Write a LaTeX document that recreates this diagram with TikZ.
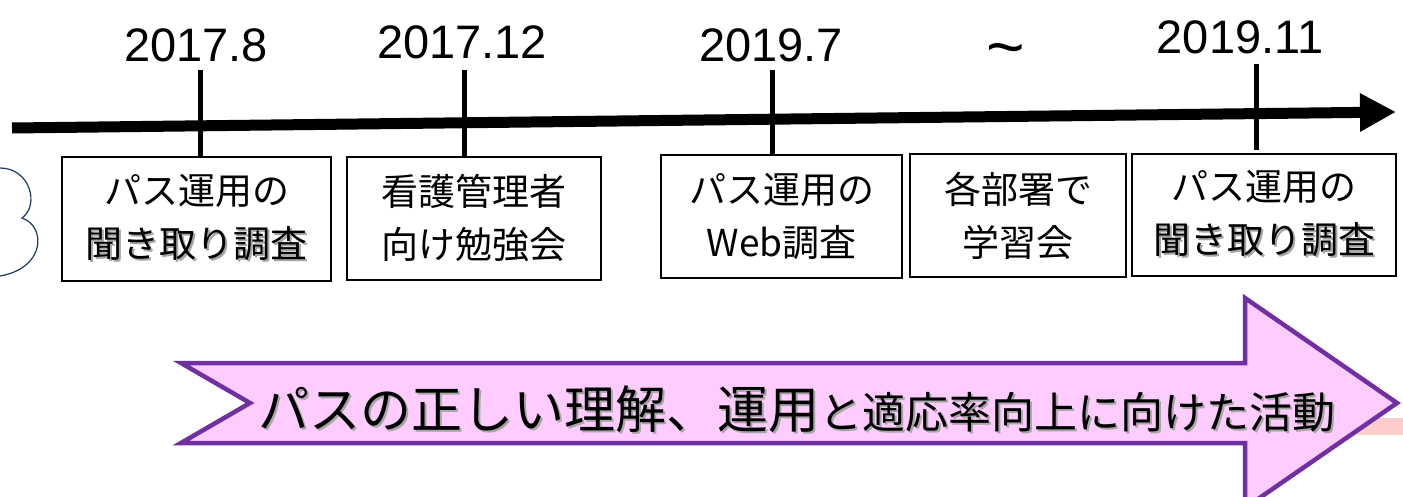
\documentclass[tikz,border=0pt]{standalone}
\usepackage{fontspec}
\setmainfont{Liberation Sans}
\newfontfamily\jp{Noto Sans CJK JP}
\usetikzlibrary{arrows.meta}

\definecolor{bandfill}{HTML}{FFCCFF}
\definecolor{bandline}{HTML}{7030A0}
\definecolor{cloudline}{HTML}{203864}
\definecolor{stripfill}{HTML}{FFCCCC}

% text with a soft drop shadow
\newcommand{\shd}[1]{\makebox[0pt][l]{\hspace{2pt}\raisebox{-2pt}{\color{black!35}#1}}#1}

\tikzset{
  datelabel/.style={inner sep=0pt, font=\fontsize{47}{54}\selectfont},
  eventbox/.style={draw, line width=2pt, inner sep=0pt, align=center,
    font=\jp\fontsize{37}{53}\selectfont},
}

\begin{document}
\begin{tikzpicture}[x=1pt,y=-1pt]

\useasboundingbox (0,0) rectangle (1403,497);

\coordinate (L) at (12,128);
\coordinate (R) at (1396,112);

% time axis
\draw[line width=11pt, -{Triangle[length=36pt,width=36pt]}] (L) to (R);

\node[datelabel] (d1) at (196,45){2017.8};
\node[datelabel] (d2) at (462,42){2017.12};
\node[datelabel] (d3) at (771,45){2019.7};
\node[datelabel] (d4) at (1006,56){\fontsize{66}{70}\selectfont\textasciitilde};
\node[datelabel] (d5) at (1240,37){2019.11};

\node[eventbox, minimum width=269pt, minimum height=124pt] (b1) at (196.5,219)
  {パス運用の\\\shd{聞き取り調査}};
\node[eventbox, minimum width=254pt, minimum height=123pt] (b2) at (474,218.5)
  {看護管理者\\向け勉強会};
\node[eventbox, minimum width=241pt, minimum height=123pt] (b3) at (781.5,216.5)
  {パス運用の\\Web調査};
\node[eventbox, minimum width=216pt, minimum height=123pt] (b4) at (1018,215.5)
  {各部署で\\学習会};
\node[eventbox, minimum width=264pt, minimum height=122pt] (b5) at (1264,215)
  {パス運用の\\\shd{聞き取り調査}};

% ticks
\coordinate (t1) at (200,70);
\coordinate (t2) at (464,70);
\coordinate (t3) at (772,70);
\coordinate (t5) at (1256,64);
\draw[line width=5pt] (t1) to (t1 |- b1.north);
\draw[line width=5pt] (t2) to (t2 |- b2.north);
\draw[line width=5pt] (t3) to (t3 |- b3.north);
\draw[line width=5pt] (t5) to (1256,150);

% cloud edge on the left
\draw[cloudline, line width=1.2pt] (0,168) .. controls (30,168) and (40,205) .. (22,218)
  .. controls (46,226) and (46,268) .. (0,276);

% band arrow
\fill[stripfill] (1357,418) rectangle (1403,435);
\draw[bandline, fill=bandfill, line width=4.5pt]
  (181,363) -- (1245,363) -- (1245,298) -- (1397,403) -- (1245,508)
  -- (1245,443) -- (181,443) -- (250,403) -- cycle;

\node[anchor=base west, inner sep=0pt] (band) at (258,428)
  {\jp\shd{\fontsize{51}{56}\selectfont パスの正しい理解、運用}\shd{\fontsize{43}{48}\selectfont と適応率向上に向けた活動}};

\end{tikzpicture}
\end{document}
